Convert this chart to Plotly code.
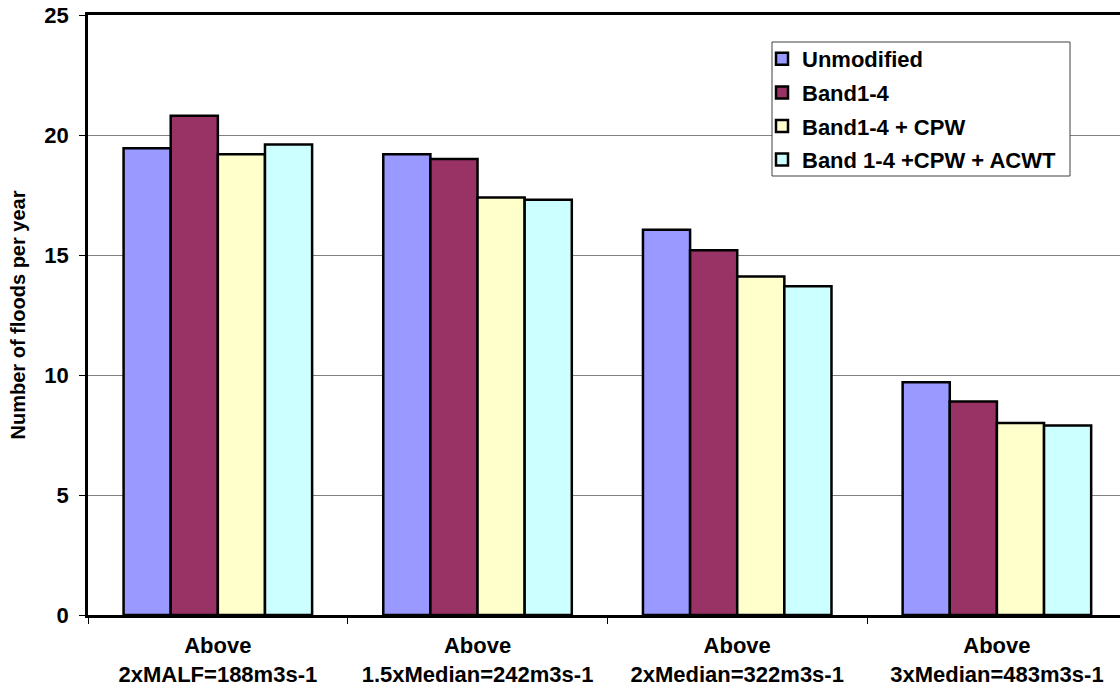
import plotly.graph_objects as go

categories = ["Above<br>2xMALF=188m3s-1", "Above<br>1.5xMedian=242m3s-1",
              "Above<br>2xMedian=322m3s-1", "Above<br>3xMedian=483m3s-1"]
series_names = ["Unmodified", "Band1-4", "Band1-4 + CPW", "Band 1-4 +CPW + ACWT"]
unmodified = [19.45, 19.2, 16.05, 9.7]
band14 = [20.8, 19.0, 15.2, 8.9]
band14_cpw = [19.2, 17.4, 14.1, 8.0]
band14_cpw_acwt = [19.6, 17.3, 13.7, 7.9]
colors = ["#9999FF", "#993366", "#FFFFCC", "#CCFFFF"]
y_ticks = [0, 5, 10, 15, 20, 25]

FONT = "Liberation Sans, Arial, sans-serif"
FS = 22

fig = go.Figure()
for i, (name, vals) in enumerate(zip(series_names,
                                     [unmodified, band14, band14_cpw, band14_cpw_acwt])):
    fig.add_trace(go.Bar(
        x=categories, y=vals, name=name,
        marker=dict(color=colors[i], line=dict(color="black", width=2.5)),
        legendgroup=str(i),
    ))

# legend frame (pixel box 772..1070 x 42..176 -> paper coords)
PL, PT, PW, PH = 88, 15, 1032, 600
def px_x(v):
    return (v - PL) / PW
def px_y(v):
    return (PT + PH - v) / PH

fig.add_shape(type="rect", xref="paper", yref="paper",
              x0=px_x(772), x1=px_x(1070), y0=px_y(176), y1=px_y(42),
              fillcolor="white", line=dict(color="#404040", width=1), layer="above")

fig.update_layout(
    width=1120, height=687,
    margin=dict(l=88, r=0, t=15, b=72, autoexpand=False),
    paper_bgcolor="white", plot_bgcolor="white",
    barmode="group", bargap=0.274, bargroupgap=0,
    font=dict(family=FONT, size=FS, color="black", weight="bold"),
    legend=dict(
        x=px_x(762), y=px_y(38), xanchor="left", yanchor="top",
        bgcolor="rgba(0,0,0,0)", borderwidth=0,
        font=dict(family=FONT, size=FS, color="black", weight="bold"),
        tracegroupgap=2, traceorder="grouped",
    ),
    xaxis=dict(
        type="category", range=[-0.5, 3.474], automargin=False,
        tickson="boundaries", ticks="outside", ticklen=6, tickcolor="black",
        showline=True, linecolor="black", linewidth=2.5, mirror=True,
        showgrid=False, ticklabelstandoff=9,
        tickfont=dict(family=FONT, size=FS, color="black", weight="bold"),
    ),
    yaxis=dict(
        range=[0, 25], tickvals=y_ticks, ticks="outside", ticklen=6,
        automargin=False,
        tickcolor="black", showline=True, linecolor="black", linewidth=2.5,
        showgrid=True, gridcolor="#808080", gridwidth=1,
        tickfont=dict(family=FONT, size=FS, color="black", weight="bold"),
        ticklabelstandoff=6,
        title=dict(text="Number of floods per year", standoff=14,
                   font=dict(family=FONT, size=20, color="black", weight="bold")),
        zeroline=False,
    ),
)

fig.write_html("out.html")
